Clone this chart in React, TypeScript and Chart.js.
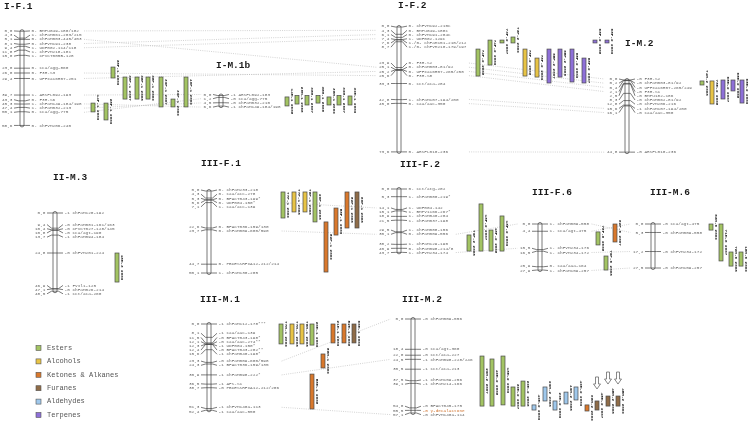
import { useEffect, useRef } from "react";
import { Chart, registerables } from "chart.js";

Chart.register(...registerables);

// ---------- classes / legend ----------
const CLASS_KEYS = ["E", "A", "K", "F", "D", "T"];
const CLASS_NAMES = ["Esters", "Alcohols", "Ketones & Alkanes", "Furanes", "Aldehydes", "Terpenes"];

// ---------- I-F.1 ----------
const IF1_CM = [0, 4.3, 5.1, 8.1, 9.4, 11.8, 15.0, 23.0, 26.0, 29.4, 39.7, 43.3, 45.3, 47.4, 50.1, 58.6];
const IF1_LOCI = ["0- BMPu049-180/182", "1- ChFaM061-203/215", "0- ChFaM003-445/453", "0- ChFvM191-238", "1- UDF002-114/118", "1- ChFvM218-181", "1- CPVCT005B-128", "0- cca/agg-860", "0- F3H-S3", "0- UFFxa16H07-251", "1- ARSFL092-193", "0- F3H-S6", "1- ChFaM149-184/198", "1- ChFaM032-213", "0- cca/agg-775", "0- ChFvM206-240"];
const IF1_Q_FROM = [44.7, 44.7, 22.3, 28.5, 28.5, 28.5, 28.5, 42.2, 28.5];
const IF1_Q_TO = [50.2, 55.2, 29.1, 42.2, 42.2, 42.2, 47.1, 47.1, 47.1];
const IF1_Q_NAME = ["14F-1 2009", "28F-1 2009", "38F-1 2009", "38F-1 2007", "38F-1 2008", "38F-1 2009", "39F-1 2007", "39F-1 2009", "40F-1 2009"];
const IF1_Q_CLASS = ["E", "E", "E", "E", "E", "E", "E", "E", "E"];

// ---------- I-M.1b ----------
const IM1B_CM = [0, 1.2, 4.5, 6.6];
const IM1B_LOCI = ["-1 ARSFL092-183", "-0 cca/agg-775", "-0 ChFaM032-210", "-1 ChFaM149-184/198"];
const IM1B_Q_FROM = [0.9, 0, 0, 0, 0.9, 0, 0.3];
const IM1B_Q_TO = [6.5, 5.3, 5.9, 4.7, 5.9, 5.9, 5.9];
const IM1B_Q_NAME = ["14M-1 2008", "28M-1 2008", "38M-1 2007", "38M-1 2008", "38M-1 2009", "39M-1 2007", "39M-1 2009"];
const IM1B_Q_CLASS = ["E", "E", "E", "E", "E", "E", "E"];

// ---------- I-F.2 ----------
const IF2_CM = [0, 4.3, 6.1, 7.4, 7.6, 8.7, 23.9, 25.1, 25.2, 25.6, 33.3, 42.8, 45.0, 73.6];
const IF2_LOCI = ["0- ChFvM192-210c", "0- BMPu049-188c", "0- ChFvM191-204c", "1- UDF002-129c", "1-/0- ChFaM151-210/212", "1-/0- ChFvM210-179/197", "0- F3H-S2", "0- ChFaM003-81/92", "0- UFFxa16H07-265/258", "0- F3H-S8", "0- cct/aca-284", "1- ChFaM107-194/200", "0- caa/aac-350", "0- ARSFL010-236"];
const IF2_Q_FROM = [13.0, 7.7, 7.7, 5.9, 13.0, 18.3, 13.0, 13.0, 13.0, 18.3, 7.7, 7.7];
const IF2_Q_TO = [28.9, 22.4, 9.4, 9.4, 28.9, 29.5, 33.0, 29.5, 32.4, 33.0, 9.4, 9.4];
const IF2_Q_NAME = ["74F-2 2008", "74F-2 2009", "73F-2 2007", "73F-2 2009", "78F-2 2008", "78F-2 2009", "65F-2 2007", "65F-2 2008", "65F-2 2009", "68F-2 2007", "68F-2 2008", "68F-2 2009"];
const IF2_Q_CLASS = ["E", "E", "E", "E", "A", "A", "T", "T", "T", "T", "T", "T"];

// ---------- I-M.2 ----------
const IM2_CM = [0, 0.2, 0.4, 2.1, 2.5, 8.3, 12.8, 15.6, 16.1, 44.8];
const IM2_LOCI = ["-0 F3H-S2", "-0 ChFaM003-81/92", "-0 UFFxa16H07-265/249", "-0 F3H-S1", "-0 BMPu182-186", "-0 ChFaM062-81/92", "-0 ChFvM206-216", "-1 ChFaM107-194/200", "-0 caa/aac-350", "-0 ARSFL010-236"];
const IM2_Q_FROM = [0.6, 0.6, 0, 0, 0];
const IM2_Q_TO = [3.1, 14.9, 11.8, 6.8, 14.3];
const IM2_Q_NAME = ["74M-2 2008", "78M-2 2008", "65M-2 2007", "65M-2 2008", "65M-2 2009"];
const IM2_Q_CLASS = ["E", "A", "T", "T", "T"];

// ---------- II-M.3 ----------
const IIM3_CM = [0, 9.4, 10.4, 10.8, 13.7, 24.8, 46.9, 47.1, 48.5];
const IIM3_LOCI = ["-1 ChFaM120-192", "-0 ChFaM081-161/163", "-0 CPVCT027-128/145", "-0 cca/agt-190", "-1 ChFaM094-184", "-0 ChFvM201-224", "-1 FvIl1-125", "-0 ChFaM026-214", "-1 cct/aca-260"];
const IIM3_Q_FROM = [24.8];
const IIM3_Q_TO = [42.8];
const IIM3_Q_NAME = ["18M-3 2009"];
const IIM3_Q_CLASS = ["E"];

// ---------- III-F.1 ----------
const IIIF1_CM = [0, 4.3, 5.3, 5.6, 7.1, 22.6, 23.7, 44.7, 50.1];
const IIIF1_LOCI = ["0- ChFaM233-218", "0- caa/acc-278", "0- BFACT043-199*", "0- UDF004-150*", "1- caa/acc-139", "0- BFACT036-159/130", "0- ChFaM009-600/590", "0- PBCESSRFxA12-212/214", "1- ChFaM130-205"];
const IIIF1_Q_FROM = [0.6, 0.6, 0.6, 0.6, 18.9, 10.4, 0.6, 0.6];
const IIIF1_Q_TO = [16.5, 12.8, 12.8, 18.9, 49.5, 26.9, 22.6, 22.6];
const IIIF1_Q_NAME = ["77F-1 2009", "77F-1 2008", "78F-1 2008", "20F-1 2008", "52F-1 2009", "58F-1 2009", "52F-1 2008", "60F-1 2008"];
const IIIF1_Q_CLASS = ["E", "A", "A", "E", "K", "K", "K", "F"];

// ---------- III-F.2 ----------
const IIIF2_CM = [0, 5.3, 14.1, 15.1, 18.9, 21.5, 29.5, 30.1, 38.2, 40.9, 43.7];
const IIIF2_LOCI = ["0- cct/atg-202", "1- ChFaM080-219*", "1- UDF004-142", "1- BMPv1166-267*", "1- ChFaM040-204", "1- ChFaM037-198", "1- ChFaM088-156", "0- ChFaM009-556", "1- ChFaM129-190", "0- ChFaM098-214/8", "1- ChFvM234-174"];
const IIIF2_Q_FROM = [31.7, 10.3, 28.3, 18.6];
const IIIF2_Q_TO = [42.8, 42.8, 42.8, 42.8];
const IIIF2_Q_NAME = ["79F-2 2008", "18F-2 2007", "18F-2 2008", "18F-2 2009"];
const IIIF2_Q_CLASS = ["E", "E", "E", "E"];

// ---------- III-F.6 ----------
const IIIF6_CM = [0, 4.4, 15.5, 16.5, 25.9, 27.9];
const IIIF6_LOCI = ["1- ChFaM009-558", "1- cca/agt-475", "1- ChFvM234-176", "1- ChFvM234-172", "0- caa/aaa-164", "1- ChFaM159-257"];
const IIIF6_Q_FROM = [4.8, 0, 19.4];
const IIIF6_Q_TO = [12.7, 10.9, 27.9];
const IIIF6_Q_NAME = ["78F-6 2008", "62F-6 2007", "79F-6 2008"];
const IIIF6_Q_CLASS = ["E", "K", "E"];

// ---------- III-M.6 ----------
const IIIM6_CM = [0, 5.3, 17.2, 27.5];
const IIIM6_LOCI = ["-0 cca/agt-475", "-0 ChFaM009-558", "-0 ChFvM234-172", "-0 ChFaM159-257"];
const IIIM6_Q_FROM = [0, 0, 17.5, 17.5];
const IIIM6_Q_TO = [3.8, 23.1, 26.3, 26.3];
const IIIM6_Q_NAME = ["63M-6 2009", "71M-6 2007", "72M-6 2008", "18M-6 2009"];
const IIIM6_Q_CLASS = ["E", "E", "E", "E"];

// ---------- III-M.1 ----------
const IIIM1_CM = [0, 8.1, 11.5, 12.1, 12.3, 12.4, 15.6, 23.3, 24.3, 30.9, 36.5, 38.7, 51.3, 52.4];
const IIIM1_LOCI = ["-1 ChFaM112-178***", "-1 caa/aac-139", "-0 BFACT043-198*", "-0 caa/aac-274**", "-1 UDF004-150*", "-0 BFACT043-202**", "-1 ChFaM040-198*", "-0 ChFaM009-600/598", "-1 BFACT036-159/135", "-1 ChFaM098-222*", "-1 AFS-S1", "-0 PBCESSRFxA12-212/206", "-1 ChFvM140a-113", "-1 caa/aac-550"];
const IIIM1_Q_FROM = [0, 0, 0, 0, 30.4, 18.2, 0, 0, 0];
const IIIM1_Q_TO = [12.1, 12.1, 12.1, 12.8, 51.6, 26.7, 11.5, 11.5, 11.5];
const IIIM1_Q_NAME = ["77M-1 2009", "77M-1 2008", "78M-1 2008", "20M-1 2009", "58M-1 2008", "58M-1 2009", "21M-1 2009", "52M-1 2008", "60M-1 2009"];
const IIIM1_Q_CLASS = ["E", "A", "A", "E", "K", "K", "K", "K", "F"];

// ---------- III-M.2 ----------
const IIIM2_CM = [0, 18.4, 22.0, 24.5, 30.5, 37.5, 39.1, 54.0, 55.5, 57.1];
const IIIM2_LOCI = ["-0 ChFaM009-556", "-0 cca/agt-360", "-0 cct/aca-227", "-1 ChFaM098-228/246", "-1 cct/aca-213", "-1 ChFaM159-256", "-1 ChFaM214-166", "-0 BFACT045-175", "-0 γ-decalactone", "-0 ChFvM140a-114"];
const IIIM2_Q_FROM = [22.5, 24.3, 22.5, 41.3, 37.7, 52.2, 41.3, 49.8, 44.4, 41.3, 52.2, 49.8, 46.8, 46.8];
const IIIM2_Q_TO = [52.9, 52.9, 52.2, 52.9, 52.9, 55.3, 49.8, 55.3, 51.6, 49.2, 55.9, 55.3, 52.9, 52.9];
const IIIM2_Q_NAME = ["29M-2 2007", "49M-2 2008", "18M-2 2009", "39M-2 2007", "29M-2 2008", "49M-2 2009", "29M-2 2008", "29M-2 2009", "49M-2 2008", "49M-2 2009", "08M-2 2009", "45M-2 2007", "45M-2 2008", "45M-2 2009"];
const IIIM2_Q_CLASS = ["E", "E", "E", "E", "E", "D", "D", "D", "D", "D", "K", "F", "F", "F"];
const IIIM2_Q_ARROW = [0, 0, 0, 0, 0, 0, 0, 0, 0, 0, 0, 1, 1, 1];

// ---------- homologous marker links: [groupA, markerA, groupB, markerB] ----------
const LINKS: [string, number, string, number][] = [
  ["IF1", 0, "IF2", 1], ["IF1", 3, "IF2", 2], ["IF1", 4, "IF2", 3], ["IF1", 2, "IF2", 7],
  ["IF1", 8, "IF2", 9], ["IF1", 9, "IF2", 8],
  ["IF1", 10, "IM1B", 0], ["IF1", 14, "IM1B", 1], ["IF1", 13, "IM1B", 2], ["IF1", 12, "IM1B", 3],
  ["IF2", 6, "IM2", 0], ["IF2", 7, "IM2", 1], ["IF2", 8, "IM2", 2], ["IF2", 9, "IM2", 3],
  ["IF2", 11, "IM2", 7], ["IF2", 12, "IM2", 8], ["IF2", 13, "IM2", 9],
  ["IIIF1", 3, "IIIF2", 2], ["IIIF1", 6, "IIIF2", 7],
  ["IIIF2", 7, "IIIF6", 0], ["IIIF2", 10, "IIIF6", 2],
  ["IIIF6", 0, "IIIM6", 1], ["IIIF6", 1, "IIIM6", 0], ["IIIF6", 3, "IIIM6", 2], ["IIIF6", 5, "IIIM6", 3],
  ["IIIM1", 7, "IIIM2", 0], ["IIIM1", 9, "IIIM2", 3], ["IIIM1", 12, "IIIM2", 9],
];

type Group = {
  key: string; title: string; cm: number[]; loci: string[];
  qFrom: number[]; qTo: number[]; qName: string[]; qClass: string[]; qArrow?: number[];
};

const GROUPS: Group[] = [
  { key: "IF1", title: "I-F.1", cm: IF1_CM, loci: IF1_LOCI, qFrom: IF1_Q_FROM, qTo: IF1_Q_TO, qName: IF1_Q_NAME, qClass: IF1_Q_CLASS },
  { key: "IM1B", title: "I-M.1b", cm: IM1B_CM, loci: IM1B_LOCI, qFrom: IM1B_Q_FROM, qTo: IM1B_Q_TO, qName: IM1B_Q_NAME, qClass: IM1B_Q_CLASS },
  { key: "IF2", title: "I-F.2", cm: IF2_CM, loci: IF2_LOCI, qFrom: IF2_Q_FROM, qTo: IF2_Q_TO, qName: IF2_Q_NAME, qClass: IF2_Q_CLASS },
  { key: "IM2", title: "I-M.2", cm: IM2_CM, loci: IM2_LOCI, qFrom: IM2_Q_FROM, qTo: IM2_Q_TO, qName: IM2_Q_NAME, qClass: IM2_Q_CLASS },
  { key: "IIM3", title: "II-M.3", cm: IIM3_CM, loci: IIM3_LOCI, qFrom: IIM3_Q_FROM, qTo: IIM3_Q_TO, qName: IIM3_Q_NAME, qClass: IIM3_Q_CLASS },
  { key: "IIIF1", title: "III-F.1", cm: IIIF1_CM, loci: IIIF1_LOCI, qFrom: IIIF1_Q_FROM, qTo: IIIF1_Q_TO, qName: IIIF1_Q_NAME, qClass: IIIF1_Q_CLASS },
  { key: "IIIF2", title: "III-F.2", cm: IIIF2_CM, loci: IIIF2_LOCI, qFrom: IIIF2_Q_FROM, qTo: IIIF2_Q_TO, qName: IIIF2_Q_NAME, qClass: IIIF2_Q_CLASS },
  { key: "IIIF6", title: "III-F.6", cm: IIIF6_CM, loci: IIIF6_LOCI, qFrom: IIIF6_Q_FROM, qTo: IIIF6_Q_TO, qName: IIIF6_Q_NAME, qClass: IIIF6_Q_CLASS },
  { key: "IIIM6", title: "III-M.6", cm: IIIM6_CM, loci: IIIM6_LOCI, qFrom: IIIM6_Q_FROM, qTo: IIIM6_Q_TO, qName: IIIM6_Q_NAME, qClass: IIIM6_Q_CLASS },
  { key: "IIIM1", title: "III-M.1", cm: IIIM1_CM, loci: IIIM1_LOCI, qFrom: IIIM1_Q_FROM, qTo: IIIM1_Q_TO, qName: IIIM1_Q_NAME, qClass: IIIM1_Q_CLASS },
  { key: "IIIM2", title: "III-M.2", cm: IIIM2_CM, loci: IIIM2_LOCI, qFrom: IIIM2_Q_FROM, qTo: IIIM2_Q_TO, qName: IIIM2_Q_NAME, qClass: IIIM2_Q_CLASS, qArrow: IIIM2_Q_ARROW },
];

// ---------- layout (page positions, scale px per cM) ----------
const LAYOUT: Record<string, { tx: number; ty: number; cx: number; y0: number; s: number; qx: number[] }> = {
  IF1: { tx: 4, ty: 7, cx: 22, y0: 31.2, s: 1.608, qx: [93, 106, 113, 125, 137, 148, 161, 173, 186] },
  IM1B: { tx: 216, ty: 66, cx: 221, y0: 95.5, s: 1.608, qx: [287, 297, 307, 318, 329, 339, 350] },
  IF2: { tx: 398, ty: 6, cx: 399, y0: 27, s: 1.697, qx: [478, 490, 502, 513, 525, 537, 549, 560, 572, 584, 595, 607] },
  IM2: { tx: 625, ty: 44, cx: 627, y0: 80, s: 1.61, qx: [702, 712, 723, 733, 742] },
  IIM3: { tx: 53, ty: 178, cx: 55, y0: 213, s: 1.613, qx: [117] },
  IIIF1: { tx: 201, ty: 164, cx: 209, y0: 191, s: 1.637, qx: [283, 294, 305, 315, 326, 336, 347, 357] },
  IIIF2: { tx: 400, ty: 165, cx: 399, y0: 189, s: 1.45, qx: [469, 481, 491, 502] },
  IIIF6: { tx: 532, ty: 193, cx: 540, y0: 224, s: 1.65, qx: [598, 615, 606] },
  IIIM6: { tx: 650, ty: 193, cx: 653, y0: 224, s: 1.6, qx: [711, 721, 731, 741] },
  IIIM1: { tx: 200, ty: 300, cx: 209, y0: 324, s: 1.647, qx: [281, 292, 302, 312, 312, 323, 333, 344, 354] },
  IIIM2: { tx: 402, ty: 300, cx: 413, y0: 319, s: 1.646, qx: [482, 492, 503, 513, 523, 534, 545, 555, 566, 576, 587, 597, 608, 618] },
};

const COLORS: Record<string, string> = {
  E: "#a3c463", A: "#e8c445", K: "#d9782c", F: "#8f6c48", D: "#9fc8ec", T: "#8e70d8",
};
const MONO = "'Liberation Mono', 'DejaVu Sans Mono', monospace";
const MARK_FONT = `4.4px ${MONO}`;
const QTL_FONT = `bold 4.3px ${MONO}`;
const TITLE_FONT = `bold 9.5px ${MONO}`;
const LEGEND_FONT = `7px ${MONO}`;
const GAP = 4.2;

function fmt(c: number) {
  return c.toFixed(1).replace(".", ",");
}

function spread(pos: number[], gap: number, minY: number): number[] {
  type C = { a: number; b: number; c: number };
  let cl: C[] = pos.map((p, i) => ({ a: i, b: i, c: p }));
  const top = (k: C) => Math.max(minY, k.c - ((k.b - k.a) * gap) / 2);
  let changed = true;
  while (changed) {
    changed = false;
    for (let k = 0; k < cl.length - 1; k++) {
      const A = cl[k], B = cl[k + 1];
      const aBottom = top(A) + (A.b - A.a) * gap;
      if (top(B) - aBottom < gap - 1e-6) {
        let sum = 0;
        for (let i = A.a; i <= B.b; i++) sum += pos[i];
        cl.splice(k, 2, { a: A.a, b: B.b, c: sum / (B.b - A.a + 1) });
        changed = true;
        break;
      }
    }
  }
  const out: number[] = new Array(pos.length);
  for (const k of cl) {
    const t = top(k);
    for (let i = k.a; i <= k.b; i++) out[i] = t + (i - k.a) * gap;
  }
  return out;
}

const mapPlugin = {
  id: "linkageMaps",
  beforeDraw(chart: any) {
    const ctx = chart.ctx as CanvasRenderingContext2D;
    ctx.save();
    ctx.fillStyle = "#ffffff";
    ctx.fillRect(0, 0, chart.width, chart.height);
    ctx.restore();
  },
  afterDraw(chart: any) {
    const ctx = chart.ctx as CanvasRenderingContext2D;
    const X = (v: number) => chart.scales.x.getPixelForValue(v);
    const Y = (v: number) => chart.scales.y.getPixelForValue(v);
    ctx.save();
    ctx.font = MARK_FONT;
    const info: Record<string, { my: number[]; ly: number[]; nameW: number; valW: number }> = {};
    for (const g of GROUPS) {
      const L = LAYOUT[g.key];
      const my = g.cm.map((c) => L.y0 + c * L.s);
      const ly = spread(my, GAP, L.y0 - 1);
      const nameW = Math.max(...g.loci.map((n) => ctx.measureText(n).width));
      const valW = Math.max(...g.cm.map((c) => ctx.measureText(fmt(c)).width));
      info[g.key] = { my, ly, nameW, valW };
    }

    // dotted links between homologous markers
    ctx.strokeStyle = "#b5b5b5";
    ctx.lineWidth = 0.6;
    ctx.setLineDash([1, 1.2]);
    for (const [ga, ia, gb, ib] of LINKS) {
      const A = info[ga], B = info[gb];
      const LA = LAYOUT[ga], LB = LAYOUT[gb];
      ctx.beginPath();
      ctx.moveTo(X(LA.cx + 10 + A.nameW + 2), Y(A.ly[ia]));
      ctx.lineTo(X(LB.cx - 10 - B.valW - 2), Y(B.ly[ib]));
      ctx.stroke();
    }
    ctx.setLineDash([]);

    for (const g of GROUPS) {
      const L = LAYOUT[g.key];
      const I = info[g.key];
      const cx = X(L.cx);
      const maxCm = Math.max(...g.cm);
      // title
      ctx.font = TITLE_FONT;
      ctx.fillStyle = "#1a1a1a";
      ctx.textAlign = "left";
      ctx.textBaseline = "middle";
      ctx.fillText(g.title, X(L.tx), Y(L.ty));
      // chromosome
      const yt = Y(L.y0) - 1.5;
      const yb = Y(L.y0 + maxCm * L.s) + 1.5;
      ctx.beginPath();
      ctx.roundRect(cx - 2, yt, 4, yb - yt, 2);
      ctx.fillStyle = "#ffffff";
      ctx.fill();
      ctx.strokeStyle = "#555555";
      ctx.lineWidth = 0.8;
      ctx.stroke();
      // markers
      ctx.strokeStyle = "#444444";
      ctx.lineWidth = 0.7;
      ctx.font = MARK_FONT;
      for (let i = 0; i < g.cm.length; i++) {
        const my = Y(I.my[i]);
        const ly = Y(I.ly[i]);
        ctx.beginPath();
        ctx.moveTo(cx - 8, ly);
        ctx.lineTo(cx - 3.5, my);
        ctx.lineTo(cx + 3.5, my);
        ctx.lineTo(cx + 8, ly);
        ctx.stroke();
        ctx.fillStyle = "#666666";
        ctx.textAlign = "right";
        ctx.fillText(fmt(g.cm[i]), cx - 9.5, ly);
        ctx.textAlign = "left";
        ctx.fillStyle = g.loci[i].includes("decalactone") ? "#d0702a" : "#666666";
        ctx.fillText(g.loci[i], cx + 9.5, ly);
      }
      // QTL bars
      for (let q = 0; q < g.qFrom.length; q++) {
        const bx = X(L.qx[q]);
        const y1 = Y(L.y0 + g.qFrom[q] * L.s);
        const y2 = Y(L.y0 + g.qTo[q] * L.s);
        ctx.fillStyle = COLORS[g.qClass[q]];
        ctx.fillRect(bx - 2, y1, 4, y2 - y1);
        ctx.strokeStyle = "#4a4a4a";
        ctx.lineWidth = 0.7;
        ctx.strokeRect(bx - 2, y1, 4, y2 - y1);
        ctx.save();
        ctx.translate(bx + 5, (y1 + y2) / 2);
        ctx.rotate(Math.PI / 2);
        ctx.font = QTL_FONT;
        ctx.fillStyle = "#222222";
        ctx.textAlign = "center";
        ctx.textBaseline = "middle";
        ctx.fillText(g.qName[q], 0, 0);
        ctx.restore();
        if (g.qArrow && g.qArrow[q]) {
          const tip = y1 - 12, tail = y1 - 24;
          ctx.beginPath();
          ctx.moveTo(bx - 1.5, tail);
          ctx.lineTo(bx + 1.5, tail);
          ctx.lineTo(bx + 1.5, tip - 5);
          ctx.lineTo(bx + 3.5, tip - 5);
          ctx.lineTo(bx, tip);
          ctx.lineTo(bx - 3.5, tip - 5);
          ctx.lineTo(bx - 1.5, tip - 5);
          ctx.closePath();
          ctx.fillStyle = "#ffffff";
          ctx.fill();
          ctx.strokeStyle = "#555555";
          ctx.lineWidth = 0.7;
          ctx.stroke();
        }
      }
    }

    // legend
    ctx.font = LEGEND_FONT;
    ctx.textAlign = "left";
    ctx.textBaseline = "middle";
    for (let i = 0; i < CLASS_KEYS.length; i++) {
      const y = Y(348 + 13.4 * i);
      ctx.fillStyle = COLORS[CLASS_KEYS[i]];
      ctx.fillRect(X(36), y - 2.5, 5, 5);
      ctx.strokeStyle = "#555555";
      ctx.lineWidth = 0.6;
      ctx.strokeRect(X(36), y - 2.5, 5, 5);
      ctx.fillStyle = "#555555";
      ctx.fillText(CLASS_NAMES[i], X(47), y);
    }
    ctx.restore();
  },
};

export default function App() {
  const ref = useRef<HTMLCanvasElement>(null);
  useEffect(() => {
    document.body.style.margin = "0";
    const chart = new Chart(ref.current as HTMLCanvasElement, {
      type: "scatter",
      data: { datasets: [] },
      options: {
        animation: false,
        responsive: false,
        maintainAspectRatio: false,
        layout: { padding: 0 },
        plugins: { legend: { display: false }, tooltip: { enabled: false } },
        scales: {
          x: { type: "linear", min: 0, max: 751, display: false },
          y: { type: "linear", min: 0, max: 426, reverse: true, display: false },
        },
      },
      plugins: [mapPlugin as any],
    });
    return () => chart.destroy();
  }, []);
  return <canvas ref={ref} width={751} height={426} style={{ display: "block" }} />;
}
